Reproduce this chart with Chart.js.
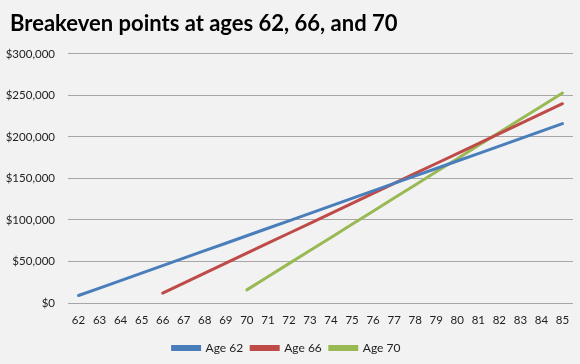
<!DOCTYPE html>
<html>
<head>
<meta charset="utf-8">
<script src="https://cdn.jsdelivr.net/npm/chart.js@4"></script>
<style>
  html, body { margin: 0; padding: 0; background: #f2f2f2; }
  #wrap { width: 580px; height: 364px; }
</style>
</head>
<body>
<div id="wrap"><canvas id="breakevenChart"></canvas></div>
<script>
const ages = ['62','63','64','65','66','67','68','69','70','71','72','73','74','75','76','77','78','79','80','81','82','83','84','85'];

// cumulative benefits
const age62 = [9000, 18000, 27000, 36000, 45000, 54000, 63000, 72000, 81000, 90000, 99000, 108000,
  117000, 126000, 135000, 144000, 153000, 162000, 171000, 180000, 189000, 198000, 207000, 216000];
const age66 = [null, null, null, null, 12000, 24000, 36000, 48000, 60000, 72000, 84000, 96000,
  108000, 120000, 132000, 144000, 156000, 168000, 180000, 192000, 204000, 216000, 228000, 240000];
const age70 = [null, null, null, null, null, null, null, null, 15800, 31600, 47400, 63200,
  79000, 94800, 110600, 126400, 142200, 158000, 173800, 189600, 205400, 221200, 237000, 252800];

const fontFamily = 'Lato, "Open Sans", sans-serif';

const bgPlugin = {
  id: 'bg',
  beforeDraw(chart) {
    const c = chart.ctx;
    c.save();
    c.fillStyle = '#f2f2f2';
    c.fillRect(0, 0, chart.width, chart.height);
    c.restore();
  },
  // nudge the title in a bit from the left edge
  afterLayout(chart) {
    if (chart.titleBlock) chart.titleBlock.left = 10;
  }
};

new Chart(document.getElementById('breakevenChart'), {
  type: 'line',
  data: {
    labels: ages,
    datasets: [
      { label: 'Age 62', data: age62, borderColor: '#4a7ebb', backgroundColor: '#4a7ebb' },
      { label: 'Age 66', data: age66, borderColor: '#be4b48', backgroundColor: '#be4b48' },
      { label: 'Age 70', data: age70, borderColor: '#98b954', backgroundColor: '#98b954' }
    ]
  },
  options: {
    responsive: true,
    maintainAspectRatio: false,
    animation: false,
    elements: {
      line: { borderWidth: 3, tension: 0, borderCapStyle: 'round' },
      point: { radius: 0, hoverRadius: 0 }
    },
    layout: { padding: { left: 0, right: 7, top: 0, bottom: 0 } },
    scales: {
      x: {
        offset: true,
        grid: { display: false, drawTicks: false },
        border: { display: false },
        afterFit: s => { s.height = 31; },
        ticks: {
          color: '#222',
          font: { family: fontFamily, size: 11.5 },
          padding: 10,
          maxRotation: 0,
          autoSkip: false
        }
      },
      y: {
        min: 0,
        max: 300000,
        border: { display: false },
        grid: { color: '#a6a6a6', lineWidth: 1, drawTicks: false },
        afterFit: s => { s.width = 68; },
        ticks: {
          stepSize: 50000,
          color: '#222',
          padding: 13,
          font: { family: fontFamily, size: 11.5 },
          callback: v => '$' + v.toLocaleString('en-US')
        }
      }
    },
    plugins: {
      title: {
        display: true,
        text: 'Breakeven points at ages 62, 66, and 70',
        align: 'start',
        color: '#000',
        font: { family: fontFamily, size: 22, weight: 'bold' },
        padding: { top: 11, bottom: 16.5 }
      },
      legend: {
        position: 'bottom',
        labels: {
          boxWidth: 27,
          boxHeight: 3,
          color: '#222',
          font: { family: fontFamily, size: 12 },
          padding: 8
        }
      },
      tooltip: { enabled: false }
    }
  },
  plugins: [bgPlugin]
});
</script>
</body>
</html>
